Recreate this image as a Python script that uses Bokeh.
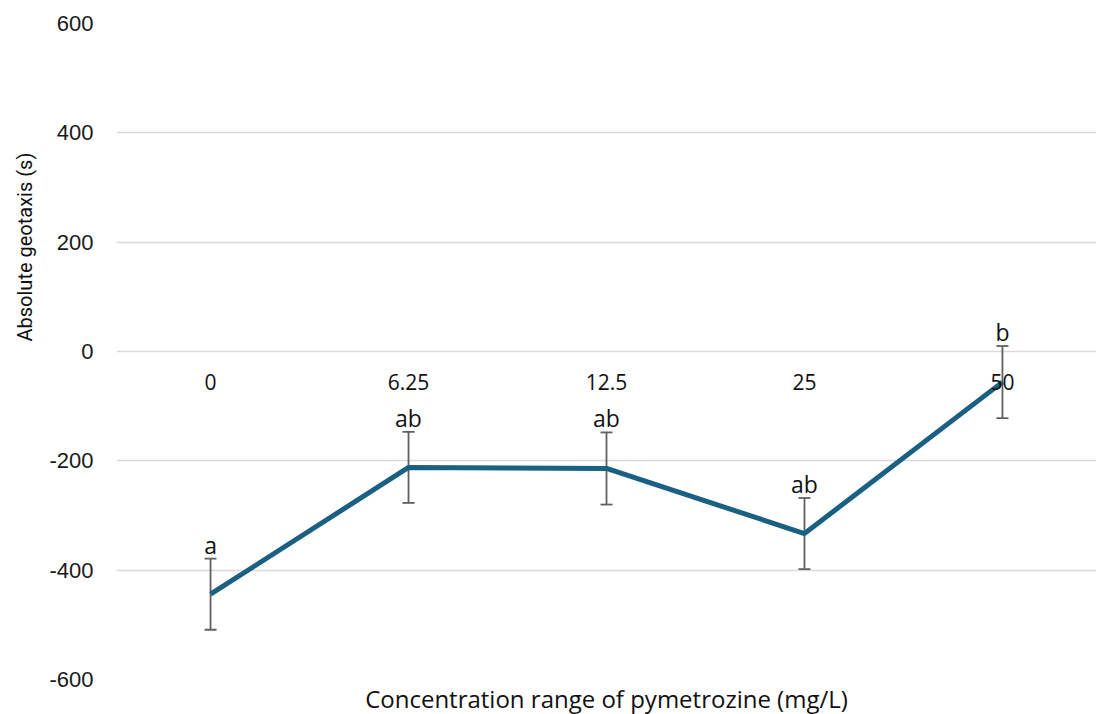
from bokeh.plotting import figure
from bokeh.models import (Range1d, FactorRange, CategoricalAxis, Whisker, ColumnDataSource,
                          TeeHead, FixedTicker, Title)
from bokeh.core.properties import value
from bokeh.embed import file_html
from bokeh.resources import INLINE

concentrations = ["0", "6.25", "12.5", "25", "50"]
mean_geotaxis = [-444, -212, -214, -333, -56]
sem_geotaxis = [65, 65, 66, 65, 66]
group_letters = ["a", "ab", "ab", "ab", "b"]
y_ticks = [-600, -400, -200, 0, 200, 400, 600]
y_tick_labels = ["-600", "-400", "-200", "0", "200", "400", "600"]

upper = [m + e for m, e in zip(mean_geotaxis, sem_geotaxis)]
lower = [m - e for m, e in zip(mean_geotaxis, sem_geotaxis)]

src = ColumnDataSource(dict(x=concentrations, y=mean_geotaxis, upper=upper,
                            lower=lower, letter=group_letters))

p = figure(width=1096, height=714,
           x_range=FactorRange(*concentrations, range_padding=-0.025,
                               range_padding_units="absolute"),
           y_range=Range1d(-600, 600),
           x_axis_location=None,
           output_backend="svg", toolbar_location=None,
           min_border_left=116, min_border_right=0, min_border_top=23,
           min_border_bottom=33)
p.outline_line_color = None
p.background_fill_color = "white"
p.border_fill_color = "white"

# grid
p.xgrid.grid_line_color = None
p.ygrid.ticker = FixedTicker(ticks=y_ticks)
p.ygrid.grid_line_color = "#d9d9d9"
p.ygrid.grid_line_width = 1.5

# y axis
p.yaxis.ticker = FixedTicker(ticks=y_ticks)
p.yaxis.major_label_overrides = dict(zip(y_ticks, y_tick_labels))
p.yaxis.axis_line_color = None
p.yaxis.major_tick_line_color = None
p.yaxis.minor_tick_line_color = None
p.yaxis.major_tick_out = 0
p.yaxis.major_label_standoff = 23
p.yaxis.major_label_text_font = "Liberation Sans"
p.yaxis.major_label_text_font_size = "22px"
p.yaxis.major_label_text_color = "#1a1a1a"

# category axis crossing at y = 0
cat_axis = CategoricalAxis(fixed_location=0)
cat_axis.axis_line_color = None
cat_axis.major_tick_line_color = None
cat_axis.major_tick_out = 0
cat_axis.major_label_standoff = 22
cat_axis.major_label_text_font = "Open Sans"
cat_axis.major_label_text_font_size = "21px"
cat_axis.major_label_text_color = "#111111"
p.add_layout(cat_axis, "below")

# x title
p.add_layout(Title(text="Concentration range of pymetrozine (mg/L)", align="center",
                   text_font="Open Sans", text_font_style="normal",
                   text_font_size="24px", text_color="#111111", standoff=0), "below")

# y title
p.add_layout(Title(text="Absolute geotaxis (s)", align="left", offset=338,
                   text_font="Roboto", text_font_style="normal",
                   text_font_size="20px", text_color="#111111", standoff=20), "left")

# mean line
p.line(x="x", y="y", source=src, line_width=5, line_color="#1a6083")

# error bars
err = Whisker(source=src, base="x", upper="upper", lower="lower",
              line_color="#606060", line_width=1.8,
              upper_head=TeeHead(size=12, line_color="#606060", line_width=1.8),
              lower_head=TeeHead(size=12, line_color="#606060", line_width=1.8))
p.add_layout(err)

# significance letters
p.text(x="x", y="upper", text="letter", source=src, text_align="center",
       text_baseline="alphabetic", y_offset=-14, text_font=value("Open Sans"),
       text_font_size="23px", text_color="#111111")

open("out.html", "w").write(file_html(p, INLINE))
